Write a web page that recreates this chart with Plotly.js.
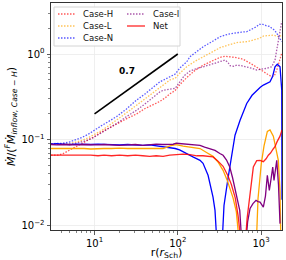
<!DOCTYPE html>
<html><head><meta charset="utf-8">
<script src="https://cdn.plot.ly/plotly-3.0.1.min.js"></script>
<style>html,body{margin:0;padding:0;background:#fff}#chart{width:286px;height:260px}</style>
</head><body><div id="chart"></div>
<script>
// ---- data ----
const rCaseH = [3.0,3.6,4.2,5.0,5.8,7.0,8.3,9.7,12,15,18.5,24,32,40,50,61,71,81,93,106,128,160,203,260,322,370,424,500,613,700,808,930,1066,1200,1345,1450,1544,1650,1773];
const vCaseH = [0.066,0.066,0.069,0.075,0.082,0.090,0.099,0.107,0.122,0.138,0.152,0.175,0.20,0.23,0.255,0.28,0.31,0.345,0.375,0.44,0.53,0.64,0.743,0.83,0.915,0.94,0.93,0.91,0.867,0.81,0.743,0.68,0.62,0.58,0.543,0.56,0.65,0.80,1.02];

const rCaseL = [3.0,3.6,4.2,5.0,5.8,7.0,8.3,9.7,12,15,18.5,24,32,46,61,71,81,93,106,128,160,203,260,322,400,511,600,700,808,950,1066,1180,1282,1400,1544,1650,1773];
const vCaseL = [0.090,0.089,0.089,0.090,0.093,0.098,0.105,0.113,0.127,0.147,0.169,0.205,0.253,0.331,0.415,0.46,0.50,0.52,0.60,0.71,0.82,0.93,1.06,1.185,1.27,1.36,1.38,1.40,1.46,1.52,1.62,1.64,1.67,1.66,1.62,1.58,1.67];

const rCaseN = [3.0,3.6,4.2,5.0,5.8,7.0,8.3,9.7,12,15,18.5,24,32,40,50,61,71,81,93,106,128,140,170,203,260,322,400,460,511,580,673,740,808,880,954,1050,1170,1260,1345,1450,1544,1660,1773];
const vCaseN = [0.090,0.090,0.091,0.094,0.099,0.106,0.115,0.128,0.145,0.165,0.187,0.227,0.29,0.34,0.40,0.474,0.51,0.543,0.583,0.686,0.81,0.93,1.07,1.22,1.40,1.59,1.70,1.74,1.79,1.80,1.82,1.90,2.0,2.08,2.22,2.22,2.13,2.10,2.0,1.90,1.75,1.55,1.39];

const rCaseI = [3.0,3.6,4.2,5.0,5.8,7.0,8.3,9.7,12,15,18.5,24,32,40,46,54,61,67,74,82,93,106,120,140,170,203,260,322,369,400,424,470,511,580,673,780,887,1000,1170,1345,1472,1540,1614,1700,1773];
const vCaseI = [0.090,0.089,0.088,0.088,0.090,0.094,0.099,0.106,0.120,0.138,0.155,0.185,0.221,0.26,0.29,0.33,0.362,0.378,0.386,0.392,0.397,0.474,0.56,0.633,0.68,0.71,0.77,0.83,0.85,0.80,0.73,0.72,0.743,0.73,0.71,0.68,0.65,0.66,0.68,0.71,0.85,1.1,1.46,1.9,2.39];

// solid curves (no legend entry except Net)
const rSolidN = [3.0,3.5,4.2,5.0,6.0,7.5,9.0,11,13,16,20,25,31,38,46,55,66.5,80,93,105,116,135,152,185,201,231,251,265,280,299,337,359,401,436,487,560,673,780,887,980,1066,1170,1282,1380,1472,1570,1691,1773,1786];
const vSolidN = [0.089,0.090,0.089,0.088,0.089,0.088,0.088,0.089,0.088,0.088,0.087,0.088,0.087,0.086,0.087,0.085,0.082,0.080,0.079,0.076,0.072,0.067,0.063,0.0575,0.053,0.0385,0.027,0.0214,0.015,0.005,0.005,0.0171,0.0355,0.061,0.113,0.169,0.265,0.33,0.379,0.41,0.434,0.45,0.474,0.55,0.71,0.76,0.71,0.379,0.02];

const rSolidL = [3.0,3.5,4.2,5.0,6.0,7.5,9.0,11,13,16,20,25,31,38,46,55,66.5,81,95,116,152,185,224,265,304,350,391,424,461,505,560,871,920,1008,1086,1191,1282,1405,1514,1614,1691,1738];
const vSolidL = [0.079,0.079,0.080,0.079,0.079,0.079,0.078,0.079,0.079,0.079,0.080,0.079,0.079,0.079,0.080,0.079,0.079,0.085,0.0875,0.084,0.081,0.079,0.0705,0.064,0.055,0.044,0.034,0.027,0.021,0.0145,0.005,0.005,0.0205,0.0531,0.085,0.125,0.13,0.11,0.08,0.0575,0.025,0.005];

const rSolidI = [3.0,3.5,4.2,5.0,6.0,7.5,9.0,11,13,16,20,25,31,38,46,55,66,78,88,96,110,130,152,185,210,242,280,320,350,385,421,455,483,520,555,596,643,690,738,800,871,920,973,1066,1130,1191,1258,1320,1382,1432,1490,1544,1620,1691];
const vSolidI = [0.088,0.087,0.088,0.087,0.087,0.088,0.087,0.087,0.088,0.087,0.086,0.087,0.088,0.086,0.087,0.089,0.088,0.089,0.0886,0.091,0.090,0.089,0.0862,0.086,0.082,0.079,0.075,0.069,0.0659,0.058,0.048,0.036,0.028,0.020,0.015,0.005,0.005,0.011,0.0158,0.018,0.0196,0.019,0.0187,0.0164,0.022,0.0385,0.0257,0.035,0.048,0.0336,0.045,0.0575,0.030,0.0105];

const rNet = [3.0,3.5,4.2,5.0,6.0,7.5,9.0,11,13,16,20,25,31,38,46,55,66.5,80,95,116,140,170,201,230,265,300,350,400,440,490,530,580,637,680,738,808,887,973,1066,1150,1224,1300,1400,1472,1560,1691,1786];
const vNet = [0.066,0.066,0.067,0.066,0.066,0.0665,0.066,0.065,0.066,0.065,0.066,0.065,0.066,0.065,0.064,0.065,0.064,0.066,0.067,0.068,0.067,0.065,0.065,0.064,0.063,0.057,0.049,0.038,0.030,0.021,0.013,0.006,0.005,0.012,0.0235,0.048,0.057,0.0575,0.0555,0.060,0.066,0.070,0.078,0.083,0.095,0.110,0.130];

// slope guide
const rSlope = [10, 100];
const vSlope = [0.2, 1.0];
const slopeLabel = '0.7';
const slopeLabelPos = [24.5, 0.63];

const xTickVals = [10, 100, 1000];
const xTickText = ['10<sup>1</sup>', '10<sup>2</sup>', '10<sup>3</sup>'];
const yTickVals = [0.01, 0.1, 1];
const yTickText = ['10<sup>\u22122</sup>', '10<sup>\u22121</sup>', '10<sup>0</sup>'];
const xMinor = [4,5,6,7,8,9,20,30,40,50,60,70,80,90,200,300,400,500,600,700,800,900];
const yMinor = [0.02,0.03,0.04,0.05,0.06,0.07,0.08,0.09,0.2,0.3,0.4,0.5,0.6,0.7,0.8,0.9,2,3];

// ---- styling ----
const FONT = 'DejaVu Sans, Verdana, sans-serif';
const DOT = '1.5px,1.5px';
const style = {
  'Case-H': {color: 'rgba(255,0,0,0.65)', dash: DOT},
  'Case-L': {color: 'rgba(255,165,0,0.65)', dash: DOT},
  'Case-N': {color: 'rgba(0,0,255,0.65)', dash: DOT},
  'Case-I': {color: 'rgba(128,0,128,0.65)', dash: DOT},
  'Net':    {color: 'rgba(255,0,0,0.85)', dash: 'solid'}
};

function tr(x, y, color, dash, name) {
  return {x: x, y: y, type: 'scatter', mode: 'lines', name: name, showlegend: false,
          hoverinfo: 'skip', line: {color: color, width: 1.3, dash: dash}};
}

const data = [
  tr(rCaseH, vCaseH, style['Case-H'].color, style['Case-H'].dash, 'Case-H'),
  tr(rCaseL, vCaseL, style['Case-L'].color, style['Case-L'].dash, 'Case-L'),
  tr(rCaseN, vCaseN, style['Case-N'].color, style['Case-N'].dash, 'Case-N'),
  tr(rCaseI, vCaseI, style['Case-I'].color, style['Case-I'].dash, 'Case-I'),
  tr(rSolidN, vSolidN, '#0000ff', 'solid', 'N'),
  tr(rSolidL, vSolidL, '#ffa500', 'solid', 'L'),
  tr(rSolidI, vSolidI, '#800080', 'solid', 'I'),
  tr(rNet, vNet, style['Net'].color, 'solid', 'Net'),
  {x: rSlope, y: vSlope, type: 'scatter', mode: 'lines', showlegend: false, hoverinfo: 'skip',
   line: {color: '#000', width: 1.6}}
];

// ---- layout ----
const W = 286, H = 260;
const M = {l: 51, r: 4, t: 3, b: 30};
const pw = W - M.l - M.r, ph = H - M.t - M.b;
const px = X => (X - M.l) / pw;
const py = Y => (H - M.b - Y) / ph;

// manual two-column legend (matplotlib ncol=2 style)
const legendItems = [
  {name: 'Case-H', col: 0, row: 0},
  {name: 'Case-L', col: 0, row: 1},
  {name: 'Case-N', col: 0, row: 2},
  {name: 'Case-I', col: 1, row: 0},
  {name: 'Net',    col: 1, row: 1}
];
const colSample = [[58, 76], [127, 145]];
const colText = [81, 151];
const rowY = [14, 26, 38];

const shapes = [{
  type: 'rect', xref: 'paper', yref: 'paper',
  x0: px(54), x1: px(180), y0: py(46), y1: py(7),
  line: {color: '#d4d4d4', width: 1}, fillcolor: 'rgba(255,255,255,0.85)', layer: 'above'
}];
const annotations = [{
  x: Math.log10(slopeLabelPos[0]), y: Math.log10(slopeLabelPos[1]), xref: 'x', yref: 'y',
  text: '<b>' + slopeLabel + '</b>', showarrow: false,
  font: {family: FONT, size: 9, color: '#000'}
}];
legendItems.forEach(it => {
  const s = style[it.name];
  shapes.push({type: 'line', xref: 'paper', yref: 'paper',
    x0: px(colSample[it.col][0]), x1: px(colSample[it.col][1]),
    y0: py(rowY[it.row]), y1: py(rowY[it.row]),
    line: {color: s.color, width: 1.3, dash: s.dash}, layer: 'above'});
  annotations.push({xref: 'paper', yref: 'paper', x: px(colText[it.col]), y: py(rowY[it.row]),
    xanchor: 'left', yanchor: 'middle', text: it.name, showarrow: false,
    font: {family: FONT, size: 8.5, color: '#111'}});
});

const axisCommon = {
  type: 'log', showline: true, mirror: true, linecolor: '#333', linewidth: 1,
  ticks: 'outside', ticklen: 3.5, tickwidth: 0.8, tickcolor: '#333',
  showgrid: true, gridcolor: '#ebebeb', gridwidth: 0.8, zeroline: false,
  tickmode: 'array', tickfont: {family: FONT, size: 10, color: '#000'}
};

const layout = {
  width: W, height: H, margin: M,
  paper_bgcolor: '#fff', plot_bgcolor: '#fff',
  font: {family: FONT, color: '#000'},
  showlegend: false,
  xaxis: Object.assign({}, axisCommon, {
    range: [Math.log10(2.998), Math.log10(1786)],
    tickvals: xTickVals, ticktext: xTickText,
    minor: {tickvals: xMinor, ticks: 'outside', ticklen: 2, tickwidth: 0.6, tickcolor: '#333', showgrid: false},
    title: {text: 'r(<i>r</i><sub>Sch</sub>)', font: {family: FONT, size: 11, color: '#000'}, standoff: 6}
  }),
  yaxis: Object.assign({}, axisCommon, {
    range: [-2.053, 0.595],
    tickvals: yTickVals, ticktext: yTickText,
    minor: {tickvals: yMinor, ticks: 'outside', ticklen: 2, tickwidth: 0.6, tickcolor: '#333', showgrid: false},
    title: {text: '<i>\u1E40</i>/(<sup><i>F</i></sup><i>\u1E40</i><sub><i>inflow, Case \u2212 H</i></sub>)',
            font: {family: FONT, size: 11, color: '#000'}, standoff: 3}
  }),
  shapes: shapes,
  annotations: annotations
};

Plotly.newPlot('chart', data, layout, {staticPlot: true, displayModeBar: false});
</script>
</body></html>
